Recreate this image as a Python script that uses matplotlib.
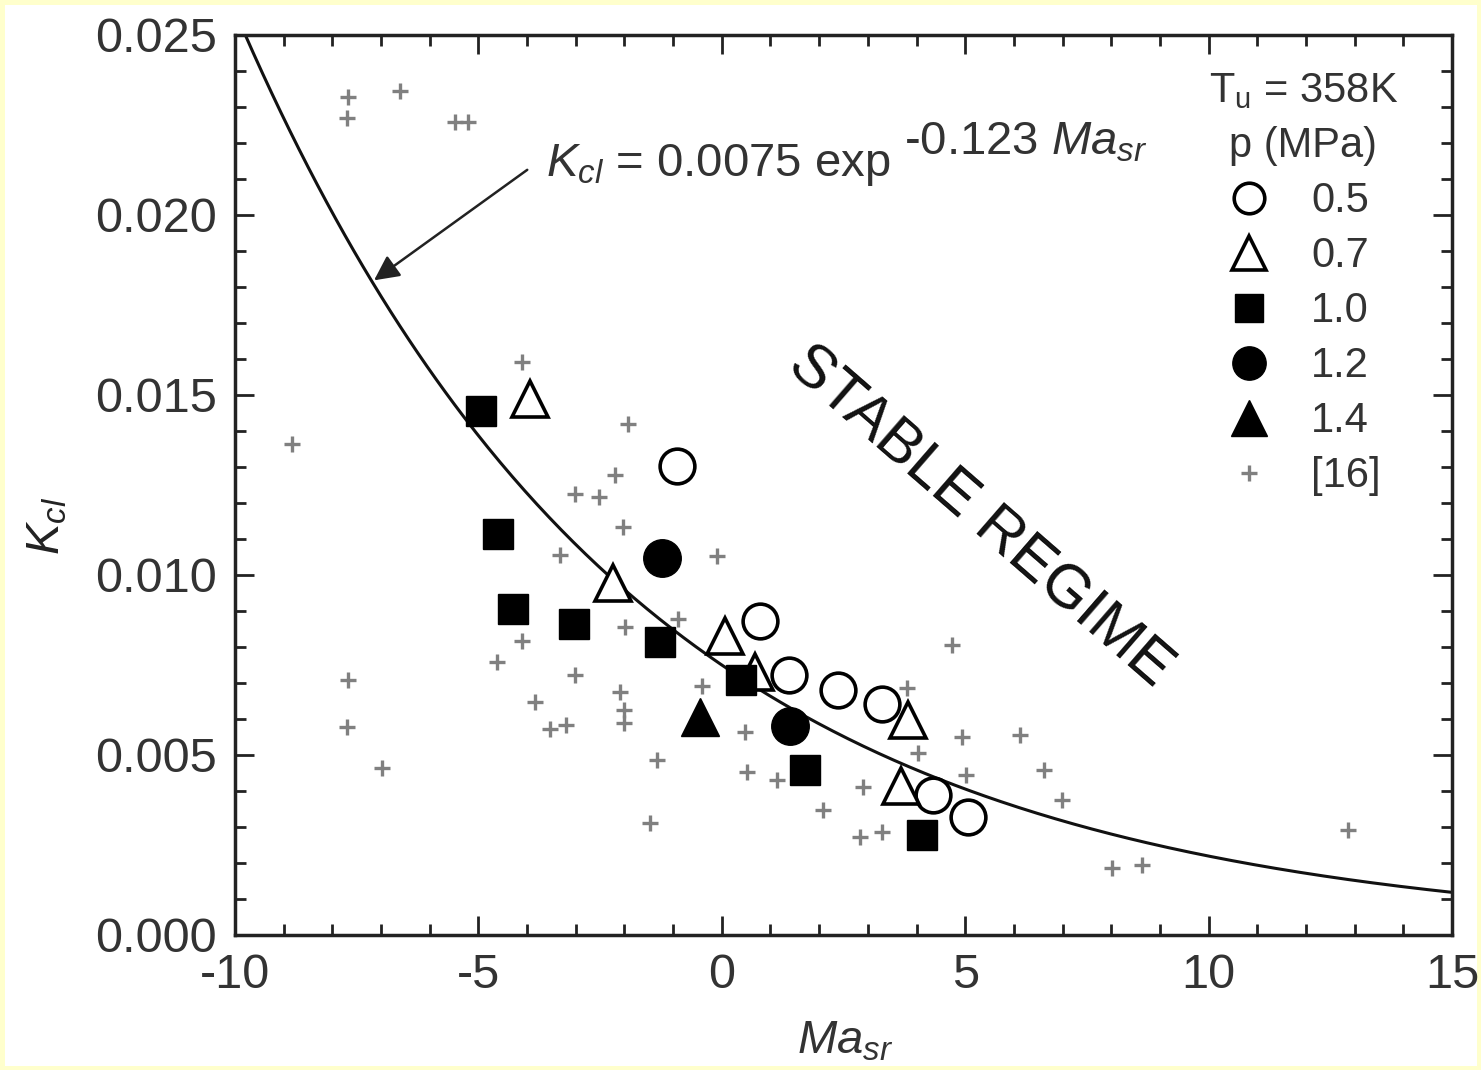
import numpy as np
import matplotlib
matplotlib.use("Agg")
import matplotlib.pyplot as plt
from matplotlib.lines import Line2D
from matplotlib.patches import Rectangle

plt.rcParams['font.family'] = ['Liberation Sans', 'DejaVu Sans']
plt.rcParams['mathtext.fontset'] = 'custom'
plt.rcParams['mathtext.rm'] = 'Liberation Sans'
plt.rcParams['mathtext.it'] = 'Liberation Sans:italic'
plt.rcParams['axes.unicode_minus'] = False

# ---- data ----
# p = 0.5 MPa (open circles)
ma_05 = [-0.92, 0.78, 1.38, 2.39, 3.29, 4.34, 5.06]
k_05 = [0.01303, 0.00872, 0.00722, 0.00680, 0.00642, 0.00389, 0.00328]
# p = 0.7 MPa (open triangles)
ma_07 = [-3.94, -2.23, 0.07, 0.68, 3.83, 3.68]
k_07 = [0.01490, 0.00978, 0.00830, 0.00730, 0.00597, 0.00414]
# p = 1.0 MPa (filled squares)
ma_10 = [-4.95, -4.60, -4.29, -3.04, -1.27, 0.39, 1.71, 4.11]
k_10 = [0.01456, 0.01114, 0.00906, 0.00864, 0.00814, 0.00708, 0.00458, 0.00278]
# p = 1.2 MPa (filled circles)
ma_12 = [-1.23, 1.40]
k_12 = [0.01047, 0.00580]
# p = 1.4 MPa (filled triangle)
ma_14 = [-0.45]
k_14 = [0.00606]
# ref [16] (gray crosses)
ma_16 = [-7.68, -7.70, -6.61, -5.48, -5.21, -8.83, -4.10, -1.93, -2.19, -3.02,
         -2.52, -2.03, -3.32, -0.10, -1.99, -0.90, -4.10, -4.62, -3.02, -3.84,
         -3.53, -3.20, -2.09, -2.01, -2.01, -0.41, -1.33, -1.47, -7.68, -7.70,
         -6.98, 0.48, 0.52, 1.13, 2.08, 2.90, 2.84, 3.29, 4.73, 3.80,
         4.03, 4.93, 5.02, 6.13, 6.62, 6.99, 8.02, 8.63, 12.86]
k_16 = [0.02328, 0.02269, 0.02344, 0.02258, 0.02258, 0.01364, 0.01592, 0.01419, 0.01278, 0.01225,
        0.01217, 0.01133, 0.01056, 0.01053, 0.00856, 0.00878, 0.00817, 0.00758, 0.00722, 0.00647,
        0.00572, 0.00583, 0.00675, 0.00625, 0.00589, 0.00692, 0.00486, 0.00311, 0.00708, 0.00578,
        0.00464, 0.00564, 0.00453, 0.00431, 0.00347, 0.00411, 0.00272, 0.00286, 0.00806, 0.00686,
        0.00506, 0.00550, 0.00444, 0.00556, 0.00458, 0.00375, 0.00186, 0.00194, 0.00292]

# fit printed on the chart: K_cl = 0.0075 exp(-0.123 Ma_sr)
fit_a = 0.0075
fit_b = -0.123

fig = plt.figure(figsize=(14.81, 10.70), dpi=100)
fig.patch.set_facecolor('#ffffcc')
fig.patches.append(Rectangle((5 / 1481, 4 / 1070), 1 - 9 / 1481, 1 - 9 / 1070,
                             transform=fig.transFigure, facecolor='white',
                             edgecolor='none', zorder=-10))
ax = fig.add_axes([235 / 1481, 135 / 1070, 1217 / 1481, 900 / 1070])
ax.set_facecolor('white')

ma_fit = np.linspace(-10, 15, 400)
ax.plot(ma_fit, fit_a * np.exp(fit_b * ma_fit), color='#111111', lw=2.2, zorder=2)

ax.plot(ma_16, k_16, ls='none', marker='+', ms=12, mew=2.4, color='#808080', zorder=1)
ax.plot(ma_05, k_05, ls='none', marker='o', ms=25, mfc='white', mec='black', mew=2.6, zorder=3)
ax.plot(ma_07, k_07, ls='none', marker='^', ms=26, mfc='white', mec='black', mew=2.6, zorder=3)
ax.plot(ma_10, k_10, ls='none', marker='s', ms=22, color='black', zorder=3)
ax.plot(ma_12, k_12, ls='none', marker='o', ms=27, color='black', zorder=3)
ax.plot(ma_14, k_14, ls='none', marker='^', ms=28, color='black', zorder=3)

ax.set_xlim(-10, 15)
ax.set_ylim(0, 0.025)
ax.set_xticks([-10, -5, 0, 5, 10, 15])
ax.set_xticks(np.arange(-10, 16, 1), minor=True)
ax.set_yticks([0, 0.005, 0.010, 0.015, 0.020, 0.025])
ax.set_yticks(np.arange(0, 0.0251, 0.001), minor=True)
ax.set_yticklabels(['0.000', '0.005', '0.010', '0.015', '0.020', '0.025'])
ax.tick_params(which='both', direction='in', top=True, right=True, width=2, color='#222222')
ax.tick_params(which='major', length=14, labelsize=35, pad=13, labelcolor='#333333')
ax.tick_params(which='minor', length=8)
for s in ax.spines.values():
    s.set_linewidth(2.5)
    s.set_color('#222222')

ax.set_xlabel('$Ma_{sr}$', fontsize=34, color='#333333', va='center')
ax.xaxis.set_label_coords(0.501, -0.118)
ax.set_ylabel('$K_{cl}$', fontsize=34, color='#222222', va='center')
ax.yaxis.set_label_coords(-0.154, 0.455)

# equation and arrow
ax.annotate('', xy=(-7.19, 0.01814), xytext=(-3.95, 0.0213),
            arrowprops=dict(arrowstyle='-|>', color='#222222', lw=1.8,
                            mutation_scale=38))
ax.text(-3.62, 0.0214, '$K_{cl}$ = 0.0075 exp', fontsize=34, color='#333333',
        va='center', ha='left')
ax.text(3.75, 0.0220, '-0.123 $Ma_{sr}$', fontsize=34, color='#333333',
        va='center', ha='left')

ax.text(5.3, 0.0116, 'STABLE REGIME', fontsize=44, rotation=-41, color='#111111',
        ha='center', va='center', rotation_mode='anchor')

# legend
handles = [
    Line2D([], [], ls='none', marker='o', ms=22, mfc='white', mec='black', mew=2.6),
    Line2D([], [], ls='none', marker='^', ms=24, mfc='white', mec='black', mew=2.6),
    Line2D([], [], ls='none', marker='s', ms=20, color='black'),
    Line2D([], [], ls='none', marker='o', ms=24, color='black'),
    Line2D([], [], ls='none', marker='^', ms=26, color='black'),
    Line2D([], [], ls='none', marker='+', ms=12, mew=2.4, color='#808080'),
]
labels = ['0.5', '0.7', '1.0', '1.2', '1.4', '[16]']
leg = ax.legend(handles, labels, loc='upper right', bbox_to_anchor=(0.976, 0.988),
                frameon=False, fontsize=30, title='T$_\\mathregular{u}$ = 358K\np (MPa)',
                title_fontsize=30, handlelength=1.1, handletextpad=0.95,
                labelspacing=0.36, borderpad=0.1)
for t in leg.get_texts():
    t.set_color('#333333')
leg.get_title().set_color('#333333')
leg.get_title().set_linespacing(1.5)
leg.get_title().set_multialignment('center')

fig.savefig('out.png', dpi=100, facecolor=fig.get_facecolor())
